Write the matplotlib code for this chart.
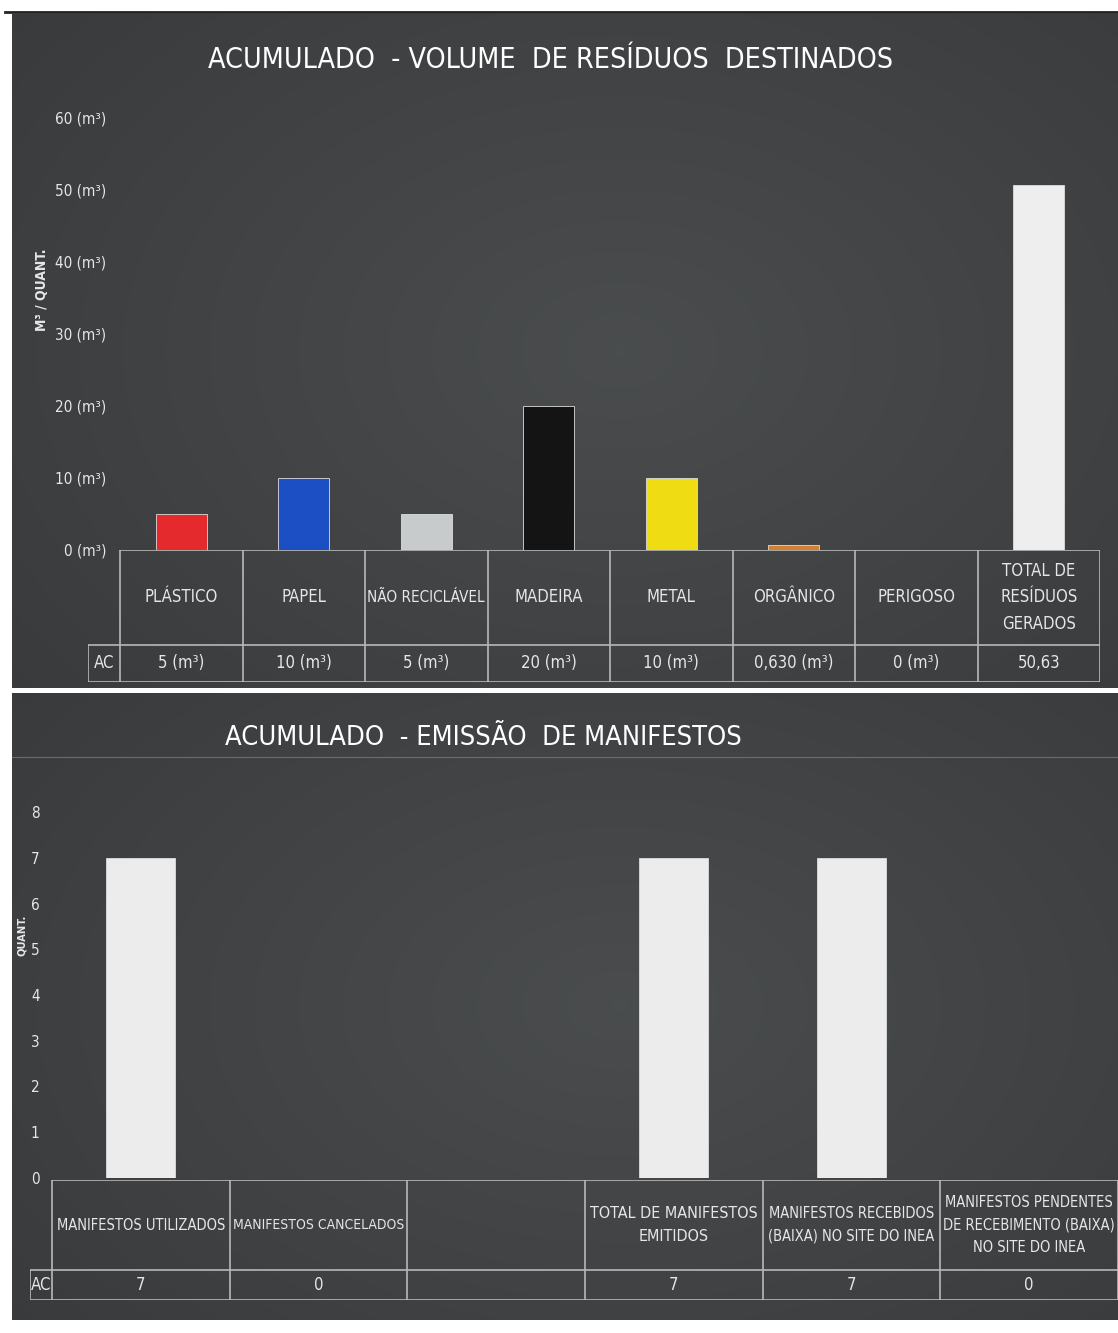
import numpy as np
import matplotlib
matplotlib.use("Agg")
import matplotlib.pyplot as plt
from matplotlib import font_manager as fm

# --- data ---
residuos = ["PLÁSTICO", "PAPEL", "NÃO RECICLÁVEL", "MADEIRA", "METAL",
            "ORGÂNICO", "PERIGOSO", "TOTAL DE\nRESÍDUOS\nGERADOS"]
volumes = [5, 10, 5, 20, 10, 0.63, 0, 50.63]
volume_labels = ["5 (m³)", "10 (m³)", "5 (m³)", "20 (m³)", "10 (m³)",
                 "0,630 (m³)", "0 (m³)", "50,63"]
residuo_cores = ["#e52a2d", "#1d4fc4", "#c8cbcc", "#141414", "#f0dc12",
                 "#d5802e", "#9a9a9a", "#eeeeee"]
vol_ticks = [0, 10, 20, 30, 40, 50, 60]

manifestos = ["MANIFESTOS UTILIZADOS", "MANIFESTOS CANCELADOS", "",
              "TOTAL DE MANIFESTOS\nEMITIDOS",
              "MANIFESTOS RECEBIDOS\n(BAIXA) NO SITE DO INEA",
              "MANIFESTOS PENDENTES\nDE RECEBIMENTO (BAIXA)\nNO SITE DO INEA"]
manif_vals = [7, 0, 0, 7, 7, 0]
manif_labels = ["7", "0", "", "7", "7", "0"]
manif_ticks = list(range(0, 9))

W, H = 1118, 1333
TXT = "#e6e6e6"
LINE = "#b8b8b8"


# pick a narrow font if one is installed
def pick_font():
    for f in fm.fontManager.ttflist:
        n = f.fname.lower()
        if ("narrow" in n or "condensed" in n) and "bold" not in n \
                and "italic" not in n and "light" not in n and "semi" not in n \
                and "extra" not in n and "medium" not in n and "thin" not in n \
                and "black" not in n:
            return f.name, f.stretch
    return "Roboto", "normal"


FAM, STRETCH = pick_font()
plt.rcParams['font.family'] = [FAM, 'DejaVu Sans']
plt.rcParams['font.stretch'] = STRETCH

fig = plt.figure(figsize=(W / 100, H / 100), dpi=100)
fig.patch.set_facecolor("white")
renderer = fig.canvas.get_renderer()


def fit(t, max_w):
    # shrink a text until it fits in max_w pixels
    while t.get_window_extent(renderer).width > max_w and t.get_fontsize() > 5:
        t.set_fontsize(t.get_fontsize() - 0.5)


def px_axes(x0, y0, x1, y1, **kw):
    return fig.add_axes([x0 / W, 1 - y1 / H, (x1 - x0) / W, (y1 - y0) / H], **kw)


def panel(y0, y1):
    ax = px_axes(12, y0, W, y1)
    yy, xx = np.mgrid[0:1:200j, 0:1:300j]
    r = np.sqrt(((xx - 0.55) / 0.7) ** 2 + ((yy - 0.5) / 0.8) ** 2)
    shade = 0.30 - 0.07 * np.clip(r, 0, 1)
    ax.imshow(np.dstack([shade * 0.97, shade, shade * 1.02]), aspect="auto",
              extent=[0, 1, 0, 1], interpolation="bicubic")
    ax.set_xlim(0, 1)
    ax.set_ylim(0, 1)
    ax.axis("off")
    return ax


line_ax = px_axes(0, 0, W, H)
line_ax.axis("off")
line_ax.set_xlim(0, W)
line_ax.set_ylim(H, 0)
line_ax.plot([5, W], [12, 12], color="#222222", lw=2)

panel(14, 688)
bot_bg = panel(693, 1320)
bot_bg.axhline(1 - (757 - 693) / (1320 - 693), color="#6a6c6e", lw=0.8)

t = fig.text(550 / W, 1 - 60 / H, "ACUMULADO  - VOLUME  DE RESÍDUOS  DESTINADOS",
             ha="center", va="center", color="white", fontsize=28)
fit(t, 685)
t = fig.text(483 / W, 1 - 738 / H, "ACUMULADO  - EMISSÃO  DE MANIFESTOS",
             ha="center", va="center", color="white", fontsize=28)
fit(t, 528)


def bar_chart(ax, values, colors, width, ticks, fmt, ymax, n, fs):
    x = np.arange(n)
    ax.bar(x, values, width=width, color=colors, edgecolor="#dddddd",
           linewidth=0.6)
    ax.set_xlim(-0.5, n - 0.5)
    ax.set_ylim(0, ymax)
    ax.set_yticks(ticks)
    ax.set_yticklabels([fmt(v) for v in ticks], color=TXT, fontsize=fs)
    ax.tick_params(axis="y", length=0, pad=10)
    ax.set_xticks([])
    ax.patch.set_alpha(0)
    for s in ax.spines.values():
        s.set_visible(False)


def table(ax, labels, values, n, x_ac, head_frac, fs, cell_px):
    ax.set_xlim(x_ac, n - 0.5)
    ax.set_ylim(0, 1)
    ax.axis("off")
    kw = dict(color=LINE, lw=1.2)
    ax.plot([-0.5, n - 0.5], [1, 1], **kw)
    ax.plot([x_ac, n - 0.5], [head_frac, head_frac], **kw)
    ax.plot([x_ac, n - 0.5], [0, 0], **kw)
    ax.plot([x_ac, x_ac], [0, head_frac], **kw)
    for i in range(n + 1):
        ax.plot([i - 0.5, i - 0.5], [0, 1], **kw)
    ax.text((x_ac - 0.5) / 2, head_frac / 2, "AC", ha="center", va="center",
            color=TXT, fontsize=fs)
    for i, (lab, val) in enumerate(zip(labels, values)):
        tx = ax.text(i, (1 + head_frac) / 2, lab, ha="center", va="center",
                     color=TXT, fontsize=fs, linespacing=1.6)
        fit(tx, cell_px - 4)
        ax.text(i, head_frac / 2, val, ha="center", va="center",
                color=TXT, fontsize=fs)


# top chart
ax1 = px_axes(120, 117, 1100, 550)
bar_chart(ax1, volumes, residuo_cores, 0.42, vol_ticks,
          lambda v: f"{v} (m³)", 60, len(residuos), 11)
fig.text(42 / W, 1 - 290 / H, "M³ / QUANT.", rotation=90, ha="center",
         va="center", color=TXT, fontsize=10, fontweight="bold")
t1 = px_axes(88, 550, 1100, 682)
table(t1, residuos, volume_labels, len(residuos), -0.5 - 32 / 122.5,
      37 / 132, 12, 122)

# bottom chart
ax2 = px_axes(52, 812, 1118, 1178)
bar_chart(ax2, manif_vals, ["#ececec"] * len(manif_vals), 0.39, manif_ticks,
          lambda v: f"{v}", 8, len(manifestos), 11)
ax2.tick_params(axis="y", pad=9)
fig.text(22 / W, 1 - 935 / H, "QUANT.", rotation=90, ha="center",
         va="center", color=TXT, fontsize=8, fontweight="bold")
t2 = px_axes(30, 1180, 1118, 1300)
table(t2, manifestos, manif_labels, len(manifestos), -0.5 - 22 / 177.7,
      30 / 120, 12, 177)

fig.savefig("out.png", dpi=100, facecolor=fig.get_facecolor())
